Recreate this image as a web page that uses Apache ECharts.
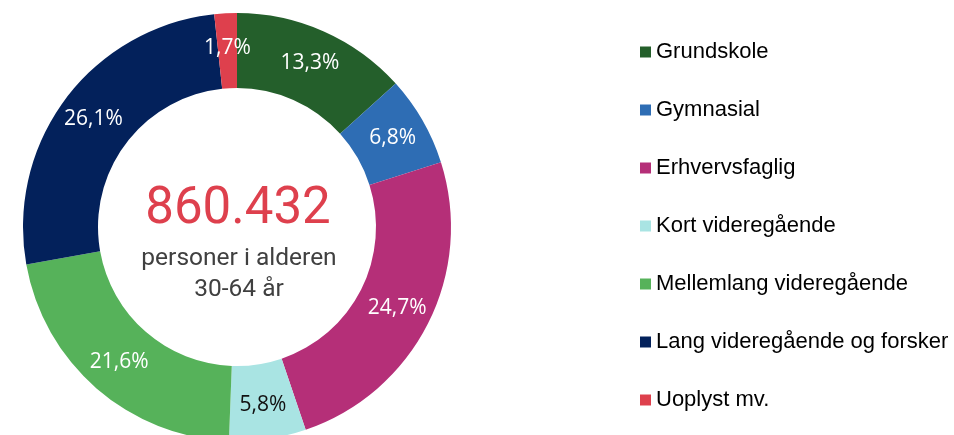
<!DOCTYPE html>
<html>
<head>
<meta charset="utf-8">
<script src="https://cdn.jsdelivr.net/npm/echarts@6/dist/echarts.min.js"></script>
<style>
  html, body { margin: 0; padding: 0; background: #fff; }
  #chart { width: 954px; height: 435px; }
</style>
</head>
<body>
<div id="chart"></div>
<script>
// uddannelsesniveau, andel i pct.
var categories = ['Grundskole', 'Gymnasial', 'Erhvervsfaglig', 'Kort videregående', 'Mellemlang videregående', 'Lang videregående og forsker', 'Uoplyst mv.'];
var shares = [13.3, 6.8, 24.7, 5.8, 21.6, 26.1, 1.7];
var colors = ['#245f2b', '#2e6db4', '#b52f78', '#a9e4e3', '#56b25a', '#03215b', '#de404d'];
var labelColors = ['#fff', '#fff', '#fff', '#111', '#fff', '#fff', '#fff'];
var totalText = '860.432';
var subText = ['personer i alderen', '30-64 år'];

var chart = echarts.init(document.getElementById('chart'));

var pieData = categories.map(function (name, i) {
  return {
    name: name,
    value: shares[i],
    itemStyle: { color: colors[i] },
    label: { color: labelColors[i] }
  };
});

var option = {
  animation: false,
  legend: {
    orient: 'vertical',
    left: 640,
    top: 41,
    padding: 0,
    itemWidth: 11,
    itemHeight: 11,
    itemGap: 36,
    icon: 'rect',
    data: categories,
    textStyle: {
      fontFamily: 'Liberation Sans',
      fontSize: 22,
      lineHeight: 22,
      color: '#000'
    }
  },
  graphic: [
    {
      type: 'text',
      x: 238,
      y: 210,
      style: {
        text: totalText,
        fill: '#de404d',
        font: '51px Roboto',
        textAlign: 'center',
        textVerticalAlign: 'middle'
      }
    },
    {
      type: 'text',
      x: 239,
      y: 274,
      style: {
        text: subText.join('\n'),
        fill: '#404040',
        font: '24.5px Roboto',
        lineHeight: 31,
        textAlign: 'center',
        textVerticalAlign: 'middle'
      }
    }
  ],
  series: [{
    type: 'pie',
    center: [237, 227],
    radius: [139, 214],
    startAngle: 90,
    clockwise: true,
    avoidLabelOverlap: false,
    label: {
      show: true,
      position: 'inside',
      fontFamily: 'Open Sans',
      fontSize: 21,
      formatter: function (p) {
        return p.value.toFixed(1).replace('.', ',') + '%';
      }
    },
    labelLine: { show: false },
    itemStyle: { borderWidth: 0 },
    emphasis: { disabled: true },
    data: pieData
  }]
};

chart.setOption(option);
</script>
</body>
</html>
